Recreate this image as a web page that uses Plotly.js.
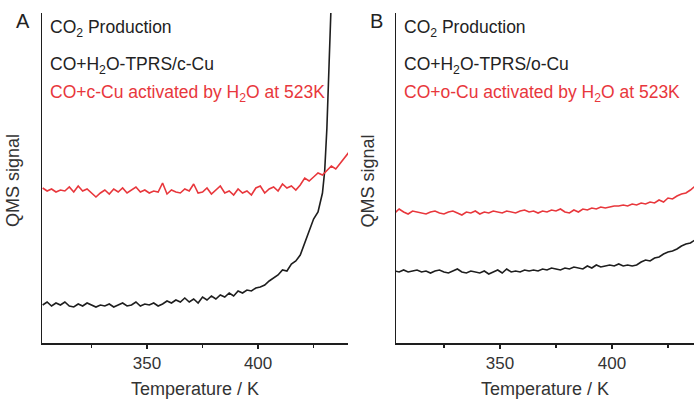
<!DOCTYPE html>
<html>
<head>
<meta charset="utf-8">
<script src="https://cdn.plot.ly/plotly-3.0.1.min.js"></script>
<style>html,body{margin:0;padding:0;background:#fff;}#chart{width:694px;height:400px;}</style>
</head>
<body>
<div id="chart"></div>
<script>
// Temperature grid (K)
const temps = [303,305,307,309,311,313,315,317,319,321,323,325,327,329,331,333,335,337,339,341,343,345,347,349,351,353,355,357,359,361,363,365,367,369,371,373,375,377,379,381,383,385,387,389,391,393,395,397,399,401,403,405,407,409,411,413,415,417,419,421,423,425,427,429,431,433,435,437,439,441];
const tempsBlackA = [303,305,307,309,311,313,315,317,319,321,323,325,327,329,331,333,335,337,339,341,343,345,347,349,351,353,355,357,359,361,363,365,367,369,371,373,375,377,379,381,383,385,387,389,391,393,395,397,399,401,403,405,407,409,411,413,415,417,419,421,423,425,427,428,429,430,431,432,433];

// Panel A (c-Cu), QMS signal (arb. units)
const blackA = [38,41,37,40,38,41,37,36,39,37,40,38,36,38,37,39,36,38,40,37,38,41,37,39,38,40,37,39,42,40,43,41,45,41,44,40,46,43,47,44,48,46,50,47,52,50,53,52,55,56,58,62,65,68,73,72,79,82,88,100,112,124,131,140,150,172,215,280,345];
const redA = [155,152,154,151,153,152,156,151,157,152,154,150,146,150,153,149,154,151,155,150,153,156,151,153,150,152,151,160,149,153,151,150,154,152,159,150,151,155,149,153,157,150,152,148,154,150,152,148,155,157,150,154,156,152,159,155,157,153,158,165,162,166,170,168,173,177,174,180,186,191];

// Panel B (o-Cu)
const blackB = [72,71,73,71,72,73,71,72,70,72,73,71,70,72,74,71,70,72,71,70,72,69,71,73,70,74,71,72,71,73,72,73,72,74,73,75,74,73,75,74,76,75,74,77,75,78,76,77,78,77,79,77,78,77,78,81,83,82,85,86,89,91,92,94,97,99,100,103,106,108];
const redB = [130,134,131,129,132,131,130,129,131,132,130,129,131,132,130,128,131,130,132,129,131,130,132,131,130,132,131,130,132,133,131,132,130,132,131,133,132,134,131,130,133,131,134,133,135,134,136,135,136,137,137,138,137,139,138,140,139,141,140,143,141,145,144,147,149,150,153,157,161,164];

const xTicks = [350, 400];
const panelLabels = ['A', 'B'];
const line1 = 'CO<sub>2</sub> Production';
const line2 = ['CO+H<sub>2</sub>O-TPRS/c-Cu', 'CO+H<sub>2</sub>O-TPRS/o-Cu'];
const line3 = ['CO+c-Cu activated by H<sub>2</sub>O at 523K', 'CO+o-Cu activated by H<sub>2</sub>O at 523K'];
const xTitle = 'Temperature / K';
const yTitle = 'QMS signal';

const BLACK = '#1e1e1e', RED = '#e8373c', FONT = 'Liberation Sans, Arial, sans-serif';

const traces = [
  {x: tempsBlackA, y: blackA, xaxis: 'x', yaxis: 'y', mode: 'lines', line: {color: BLACK, width: 1.6}},
  {x: temps, y: redA, xaxis: 'x', yaxis: 'y', mode: 'lines', line: {color: RED, width: 1.6}},
  {x: temps, y: blackB, xaxis: 'x2', yaxis: 'y2', mode: 'lines', line: {color: BLACK, width: 1.6}},
  {x: temps, y: redB, xaxis: 'x2', yaxis: 'y2', mode: 'lines', line: {color: RED, width: 1.6}}
];

function xax(domain, range, anchor) {
  return {domain: domain, range: range, anchor: anchor, tickvals: xTicks, ticks: 'outside', ticklen: 4, tickwidth: 1.2,
    tickcolor: BLACK, showline: true, linecolor: BLACK, linewidth: 1.5, showgrid: false, zeroline: false,
    minor: {dtick: 25, tick0: 300, ticks: 'outside', ticklen: 3, tickcolor: BLACK, tickwidth: 1.2},
    tickfont: {family: FONT, size: 17, color: '#333'},
    title: {text: xTitle, font: {family: FONT, size: 18, color: '#333'}, standoff: 10}, fixedrange: true};
}
function yax(anchor) {
  return {domain: [0, 1], range: [0, 330], anchor: anchor, showline: true, linecolor: BLACK, linewidth: 1.5,
    showticklabels: false, ticks: '', showgrid: false, zeroline: false, fixedrange: true};
}

const ann = [];
const ptsY = py => (343 - py) / 330;
const lefts = [48 / 694, 402 / 694];
const letterX = [23 / 694, 376.5 / 694];
const yTitleX = [13 / 694, 367.5 / 694];
for (let i = 0; i < 2; i++) {
  ann.push({xref: 'paper', yref: 'paper', x: letterX[i], y: ptsY(21), text: panelLabels[i], showarrow: false,
    xanchor: 'center', yanchor: 'middle', font: {family: FONT, size: 20, color: '#222'}});
  ann.push({xref: 'paper', yref: 'paper', x: lefts[i], y: ptsY(29), text: line1, showarrow: false,
    xanchor: 'left', yanchor: 'middle', font: {family: FONT, size: 17.5, color: '#222'}});
  ann.push({xref: 'paper', yref: 'paper', x: lefts[i], y: ptsY(65), text: line2[i], showarrow: false,
    xanchor: 'left', yanchor: 'middle', font: {family: FONT, size: 17.5, color: '#222'}});
  ann.push({xref: 'paper', yref: 'paper', x: lefts[i], y: ptsY(93), text: line3[i], showarrow: false,
    xanchor: 'left', yanchor: 'middle', font: {family: FONT, size: 17.5, color: RED}});
  ann.push({xref: 'paper', yref: 'paper', x: yTitleX[i], y: ptsY(181), text: yTitle, showarrow: false, textangle: -90,
    xanchor: 'center', yanchor: 'middle', font: {family: FONT, size: 18, color: '#333'}});
}

const layout = {
  width: 694, height: 400, margin: {l: 0, r: 0, t: 13, b: 57}, showlegend: false,
  paper_bgcolor: '#fff', plot_bgcolor: '#fff',
  xaxis: xax([42 / 694, 348 / 694], [302.7, 440.5], 'y'),
  yaxis: yax('x'),
  xaxis2: xax([396 / 694, 1], [303.6, 436.6], 'y2'),
  yaxis2: yax('x2'),
  annotations: ann
};

Plotly.newPlot('chart', traces, layout, {displayModeBar: false, staticPlot: true});
</script>
</body>
</html>
